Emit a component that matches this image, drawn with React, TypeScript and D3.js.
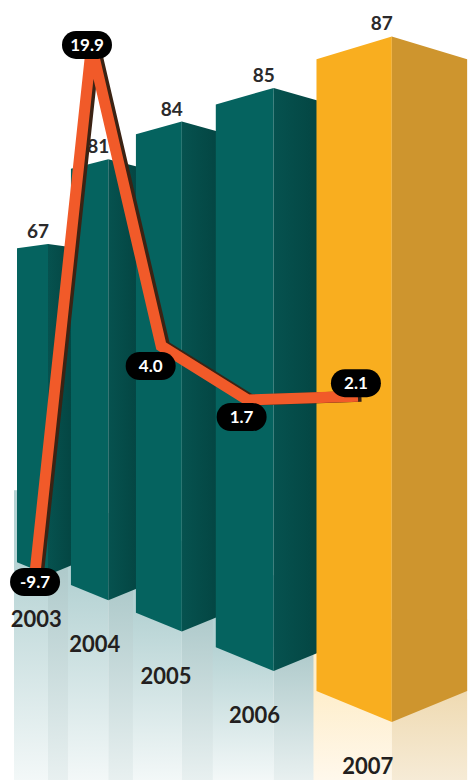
import React from 'react';
import * as d3 from 'd3';

// ---- data ----
const years = ['2003', '2004', '2005', '2006', '2007'];
const barValues = [67, 81, 84, 85, 87];
const lineValues = [-9.7, 19.9, 4.0, 1.7, 2.1];
const lineLabels = ['-9.7', '19.9', '4.0', '1.7', '2.1'];
const highlightYear = '2007';

// ---- layout / style ----
const W = 470;
const H = 780;
const HORIZON = 328;
const LINE_HORIZON = 352;
const SLOPE = 0.0082;
const FONT = 'Lato, "Open Sans", sans-serif';
const pillOffsets: [number, number][] = [
  [1, 0],
  [-4.5, -1],
  [-10.5, 20],
  [-6, 17],
  [-2, -13],
];

// inverse magnification (distance from viewer) per bar slot
const depth = d3.scaleLinear().domain([0, years.length - 1]).range([0.2025, 0.1269]);
// world height for bars (0 at floor, below horizon)
const barWorld = d3.scaleLinear().domain([0, 100]).range([50, -50]);
// world height for the growth line
const lineWorld = d3.scaleLinear().domain([-10, 20]).range([47.62, -56.54]);

type Geo = {
  k: number;
  left: number;
  w: number;
  mid: number;
  right: number;
  yPeak: number;
  yTopCorner: number;
  yBot: number;
  yBotCorner: number;
};

function buildGeometry(): Geo[] {
  const k0 = 1 / depth(0);
  let left = 17;
  return years.map((_, i) => {
    const k = 1 / depth(i);
    const w = 31 * Math.pow(k / k0, 1.9);
    const mid = left + w;
    const right = mid + w;
    const ywTop = barWorld(barValues[i]);
    const ywBot = barWorld(0);
    const yPeak = HORIZON + k * ywTop;
    const yBot = HORIZON + k * ywBot;
    const g: Geo = {
      k,
      left,
      w,
      mid,
      right,
      yPeak,
      yTopCorner: yPeak - SLOPE * ywTop * w,
      yBot,
      yBotCorner: yBot - SLOPE * ywBot * w,
    };
    left = left + 1.74 * w;
    return g;
  });
}

export default function App() {
  const geo = buildGeometry();
  const poly = (pts: [number, number][]) => pts.map((p) => p.join(',')).join(' ');

  const linePts: [number, number][] = lineValues.map((v, i) => [
    geo[i].left + 0.55 * geo[i].w,
    LINE_HORIZON + geo[i].k * lineWorld(v),
  ]);
  const lineGen = d3.line<[number, number]>().x((d) => d[0]).y((d) => d[1]);
  const path = lineGen(linePts) || '';

  return (
    <svg
      width={W}
      height={H}
      viewBox={`0 0 ${W} ${H}`}
      style={{ position: 'absolute', left: 0, top: 0, background: '#ffffff' }}
    >
      <defs>
        {geo.map((g, i) => {
          const gold = years[i] === highlightYear;
          return (
            <React.Fragment key={i}>
              <linearGradient
                id={`rf${i}`}
                gradientUnits="userSpaceOnUse"
                x1={0}
                y1={g.yBotCorner}
                x2={0}
                y2={H}
              >
                <stop offset="0" stopColor={gold ? '#FEEECC' : '#B6D3D4'} />
                <stop offset="1" stopColor={gold ? '#FFF8EC' : '#F3F8F8'} />
              </linearGradient>
              <linearGradient
                id={`rs${i}`}
                gradientUnits="userSpaceOnUse"
                x1={0}
                y1={g.yBotCorner}
                x2={0}
                y2={H}
              >
                <stop offset="0" stopColor={gold ? '#EFDAB2' : '#ADC9CA'} />
                <stop offset="1" stopColor={gold ? '#F6EBD6' : '#E8F0F0'} />
              </linearGradient>
            </React.Fragment>
          );
        })}
        <linearGradient id="tealSide" x1="0" y1="0" x2="1" y2="0">
          <stop offset="0" stopColor="#06524F" />
          <stop offset="1" stopColor="#03423F" />
        </linearGradient>
      </defs>

      {/* reflections */}
      {geo.map((g, i) => {
        const top = g.yBotCorner - 72;
        return (
          <g key={`r${i}`}>
            <rect x={g.left - 3} y={top} width={g.w + 3} height={H - top} fill={`url(#rf${i})`} />
            <rect x={g.mid} y={top} width={g.w} height={H - top} fill={`url(#rs${i})`} />
          </g>
        );
      })}

      {/* bars */}
      {geo.map((g, i) => {
        const gold = years[i] === highlightYear;
        return (
          <g key={`b${i}`}>
            <polygon
              points={poly([
                [g.left, g.yTopCorner],
                [g.mid, g.yPeak],
                [g.mid, g.yBot],
                [g.left, g.yBotCorner],
              ])}
              fill={gold ? '#F9AE1F' : '#05635F'}
            />
            <polygon
              points={poly([
                [g.mid, g.yPeak],
                [g.right, g.yTopCorner],
                [g.right, g.yBotCorner],
                [g.mid, g.yBot],
              ])}
              fill={gold ? '#CE952E' : 'url(#tealSide)'}
            />
          </g>
        );
      })}

      {/* category labels */}
      {geo.map((g, i) => (
        <text
          key={`c${i}`}
          x={g.left + 0.62 * g.w + 0.07 * (g.w - 31) * 1.5}
          y={g.yBot + 52}
          textAnchor="middle"
          fontFamily={FONT}
          fontWeight={700}
          fontSize={22}
          fill="#231F20"
        >
          {years[i]}
        </text>
      ))}

      {/* value labels */}
      {geo.map((g, i) => (
        <text
          key={`v${i}`}
          x={g.mid - 10}
          y={g.yPeak - 6}
          textAnchor="middle"
          fontFamily={FONT}
          fontWeight={700}
          fontSize={19}
          fill="#2B2A2B"
        >
          {barValues[i]}
        </text>
      ))}

      {/* growth line */}
      <path
        d={path}
        transform="translate(3.5,0)"
        fill="none"
        stroke="#3B2314"
        strokeWidth={11}
        strokeLinejoin="miter"
        strokeMiterlimit={4}
      />
      <path
        d={path}
        fill="none"
        stroke="#F15A29"
        strokeWidth={11}
        strokeLinejoin="miter"
        strokeMiterlimit={4}
      />

      {/* pills */}
      {linePts.map((p, i) => {
        const cx = p[0] + pillOffsets[i][0];
        const cy = p[1] + pillOffsets[i][1];
        return (
          <g key={`p${i}`}>
            <rect x={cx - 25} y={cy - 14} width={50} height={28} rx={14} ry={14} fill="#000000" />
            <text
              x={cx}
              y={cy}
              dy="0.36em"
              textAnchor="middle"
              fontFamily={FONT}
              fontWeight={700}
              fontSize={17}
              fill="#ffffff"
            >
              {lineLabels[i]}
            </text>
          </g>
        );
      })}
    </svg>
  );
}
